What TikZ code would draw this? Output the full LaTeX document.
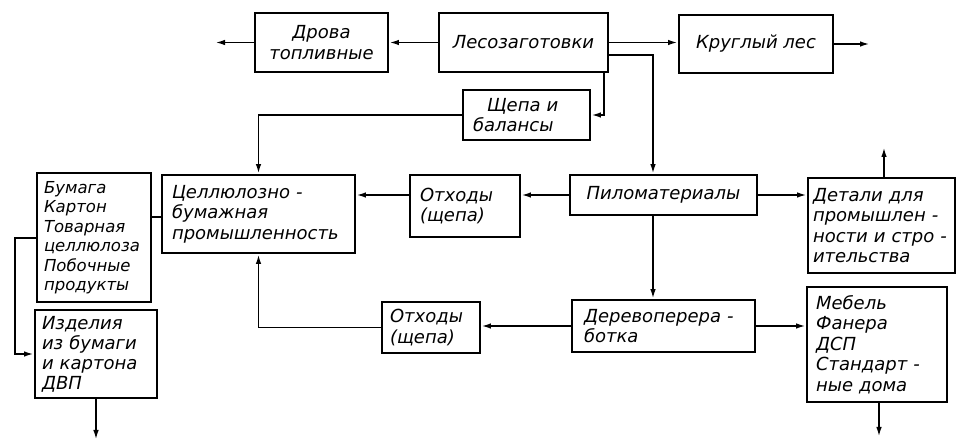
\documentclass[tikz,border=0pt]{standalone}
\usepackage{fontspec}
\setmainfont{DejaVu Sans}
\usetikzlibrary{arrows.meta,calc}
\begin{document}
\begin{tikzpicture}[x=1pt,y=-1pt, line width=1.9pt,
  box/.style={draw, rectangle, inner sep=2pt, font=\fontsize{18}{20.5}\selectfont\itshape, align=center},
  lbox/.style={box, inner xsep=10pt, text width=#1, align=left},
  arr/.style={-{Latex[length=10pt,width=5.5pt]}}]
\useasboundingbox (0,0) rectangle (959,443);
% boxes
\node[box, minimum width=133pt, minimum height=59pt] (drova) at (321.5,42.5) {Дрова\\топливные};
\node[box, minimum width=169pt, minimum height=59pt] (les) at (523.5,42.5) {Лесозаготовки};
\node[box, minimum width=154pt, minimum height=58pt] (krug) at (756,44) {Круглый лес};
\node[lbox=107pt, minimum height=50pt] (shepa) at (526.5,115) {\hspace*{14pt}Щепа и\\балансы};
\node[box, minimum width=187pt, minimum height=40pt] (pilo) at (663.5,195) {Пиломатериалы};
\node[lbox=90pt, minimum height=62pt] (otx1) at (465,206) {Отходы\\(щепа)};
\node[lbox=173pt, minimum height=78pt] (cel) at (258.5,214) {Целлюлозно -\\бумажная\\промышленность};
\node[lbox=100pt, inner xsep=7pt, minimum height=129pt, font=\fontsize{16.5}{19.5}\selectfont\itshape] (bum) at (94,237.5) {Бумага\\Картон\\Товарная\\целлюлоза\\Побочные\\продукты};
\node[lbox=108pt, inner xsep=7pt, minimum height=88pt, font=\fontsize{18}{20}\selectfont\itshape] (izd) at (96,354) {Изделия\\из бумаги\\и картона\\ДВП};
\node[lbox=137pt, inner xsep=5pt, minimum height=95pt] (det) at (881.5,225.5) {Детали для\\промышлен -\\ности и стро -\\ительства};
\node[lbox=122pt, inner xsep=9pt, minimum height=115pt] (mebel) at (877,344.5) {Мебель\\Фанера\\ДСП\\Стандарт -\\ные дома};
\node[lbox=159pt, inner xsep=12pt, minimum height=52pt] (derevo) at (663.5,326) {Деревоперера -\\ботка};
\node[lbox=82pt, inner xsep=8pt, minimum height=51pt] (otx2) at (431,327.5) {Отходы\\(щепа)};
% helper coordinates
\coordinate (o1) at (215,42.5);
\coordinate (o2) at (870,44);
\coordinate (o3) at (884,147);
\coordinate (o4) at (879,437);
\coordinate (o5) at (96,440);
\coordinate (j1) at (653,55);
\coordinate (j3) at (0,217);
\coordinate (j4) at (15,238);
% connectors
\draw[arr] (les.west) -- (drova.east);
\draw[arr] (drova.west) -- (o1);
\draw[arr] (les.east) -- (les.east -| krug.west);
\draw[arr] (krug.east) -- (o2);
\draw[arr] ($(les.south east)+(-5,0)$) |- (shepa.east);
\draw[arr] (les.east |- j1) -- (j1) -- (j1 |- pilo.north);
\draw[arr] (shepa.west) -| (cel.north);
\draw[arr] (pilo.west) -- (pilo.west -| otx1.east);
\draw[arr] (pilo.west -| otx1.west) -- (pilo.west -| cel.east);
\draw[arr] (pilo.east) -- (pilo.east -| det.west);
\draw[arr] (det.north -| o3) -- (o3);
\draw[arr] (j1 |- pilo.south) -- (j1 |- derevo.north);
\draw[arr] (derevo.west) -- (derevo.west -| otx2.east);
\draw[arr] (otx2.west) -| (cel.south);
\draw[arr] (derevo.east) -- (derevo.east -| mebel.west);
\draw[arr] (mebel.south -| o4) -- (o4);
\draw (bum.east |- j3) -- (cel.west |- j3);
\draw[arr] (bum.west |- j4) -- (j4) |- (izd.west);
\draw[arr] (izd.south) -- (o5);
\end{tikzpicture}
\end{document}
